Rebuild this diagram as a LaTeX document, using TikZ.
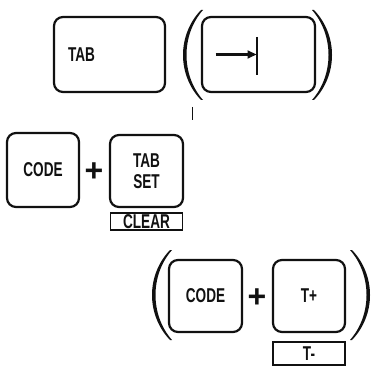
\documentclass[tikz,border=0pt]{standalone}
\usepackage{fontspec}
\setmainfont{Liberation Sans}[FakeStretch=0.68]
\newfontfamily\plusfont{Liberation Sans}
\usetikzlibrary{positioning, arrows.meta, calc}
\definecolor{keyblack}{HTML}{111111}

\begin{document}
\begin{tikzpicture}[x=1pt, y=-1pt, font=\bfseries\fontsize{20}{21}\selectfont, keyblack,
    key/.style={draw, line width=2.2pt, rounded corners=9pt, inner sep=0pt, align=center},
    legendbox/.style={draw, line width=1.9pt, inner sep=0pt, minimum width=72pt},
    plus/.style={font=\plusfont\bfseries\fontsize{32}{32}\selectfont, inner sep=0pt}]
  \useasboundingbox (0,0) rectangle (371,366);
  % top row
  \node[key, minimum width=111pt, minimum height=75pt, text width=83pt, align=left, inner xsep=14pt] (tab) at (109.5,54.5) {TAB};
  \node[key, minimum width=113pt, minimum height=75pt] (tabarrow) at (258.5,54.5) {};
  \draw[line width=2.2pt, -{Triangle[length=9pt, width=8pt]}] ($(tabarrow)+(-43,0)$) -- ($(tabarrow)+(-2,0)$);
  \draw[line width=2.2pt] ($(tabarrow)+(-1.5,-17.5)$) -- ($(tabarrow)+(-1.5,20.5)$);
  \draw[line width=1pt] (192,107) -- (192,120);
  % code + tab set
  \node[key, minimum width=72pt, minimum height=74pt] (codea) at (43,170) {CODE};
  \node[plus] (plusa) at (94,172) {+};
  \node[key, minimum width=73pt, minimum height=72pt] (tabset) at (146.5,171) {TAB\\SET};
  \node[legendbox, minimum height=17pt, below=4pt of tabset] (clear) {CLEAR};
  % code + t+
  \node[key, minimum width=73pt, minimum height=72pt] (codeb) at (205.5,296) {CODE};
  \node[plus] (plusb) at (257,298) {+};
  \node[key, minimum width=72pt, minimum height=72pt] (tplus) at (309,296) {T+};
  \node[legendbox, minimum height=23pt, below=8pt of tplus] (tminus) {T-};
  % brackets
  \foreach \xe/\dx/\ya/\yb in {201/-1/10/100, 314/1/10/100, 170/-1/250/340, 352/1/250/340}
    \fill (\xe,\ya) .. controls ({\xe+24*\dx},{\ya+25}) and ({\xe+24*\dx},{\yb-25}) .. (\xe,\yb)
      -- ({\xe-2*\dx},\yb) .. controls ({\xe+20*\dx},{\yb-25}) and ({\xe+20*\dx},{\ya+25}) .. ({\xe-2*\dx},\ya) -- cycle;
\end{tikzpicture}
\end{document}
